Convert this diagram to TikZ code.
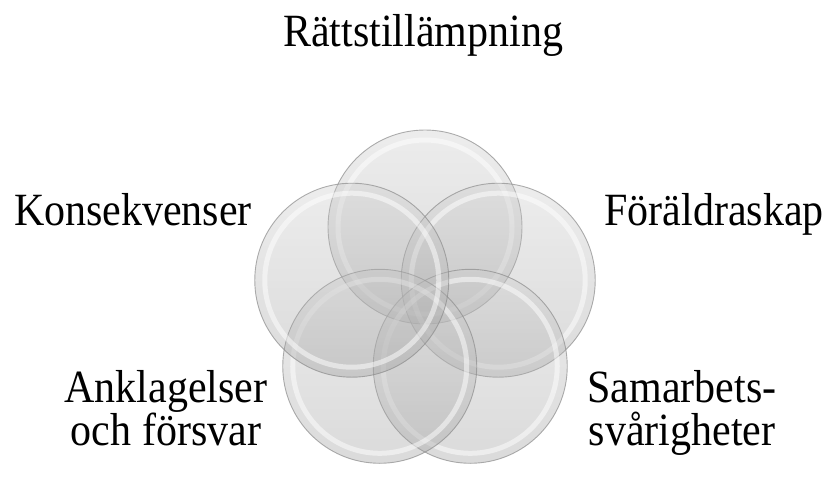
\documentclass[tikz,border=0pt]{standalone}
\usepackage{fontspec}
\usepackage{graphicx}
\setmainfont{Liberation Serif}
\usetikzlibrary{calc}
\newcommand{\tall}[1]{\scalebox{1}[1.1]{#1}}
\newcommand{\labfont}{\fontsize{42pt}{43pt}\selectfont\lineskiplimit -100pt\relax}
\begin{document}
\begin{tikzpicture}[x=1pt,y=1pt,
  lab/.style={font=\labfont, inner sep=0pt, align=center},
  disc/.style={circle, minimum size=194pt, inner sep=0pt, draw=black!45, line width=0.9pt,
    top color=black!20, bottom color=black!40, shading angle=0, fill opacity=0.36, draw opacity=0.7},
  ringline/.style={white, line width=5pt, opacity=0.5}]
\useasboundingbox (0,0) rectangle (830,-496);
\coordinate (c) at (425,-304);
\foreach \n/\a in {p1/90, p2/18, p3/-54, p4/-126, p5/162}{
  \node[disc] (\n) at ($(c)+(\a:77)$) {};
  \draw[ringline] (\n.center) circle (87);
}
\node[lab, anchor=base] (t1) at (423,-46) {\tall{Rättstillämpning}};
\node[lab, anchor=base] (t2) at (133,-225) {\tall{Konsekvenser}};
\node[lab, anchor=base] (t3) at (714,-225) {\tall{Föräldraskap}};
\node[lab, anchor=base] (t4) at (166,-445) {\tall{Anklagelser}\\\tall{och försvar}};
\node[lab, anchor=base] (t5) at (682,-445) {\tall{Samarbets-}\\\tall{svårigheter}};
\end{tikzpicture}
\end{document}
